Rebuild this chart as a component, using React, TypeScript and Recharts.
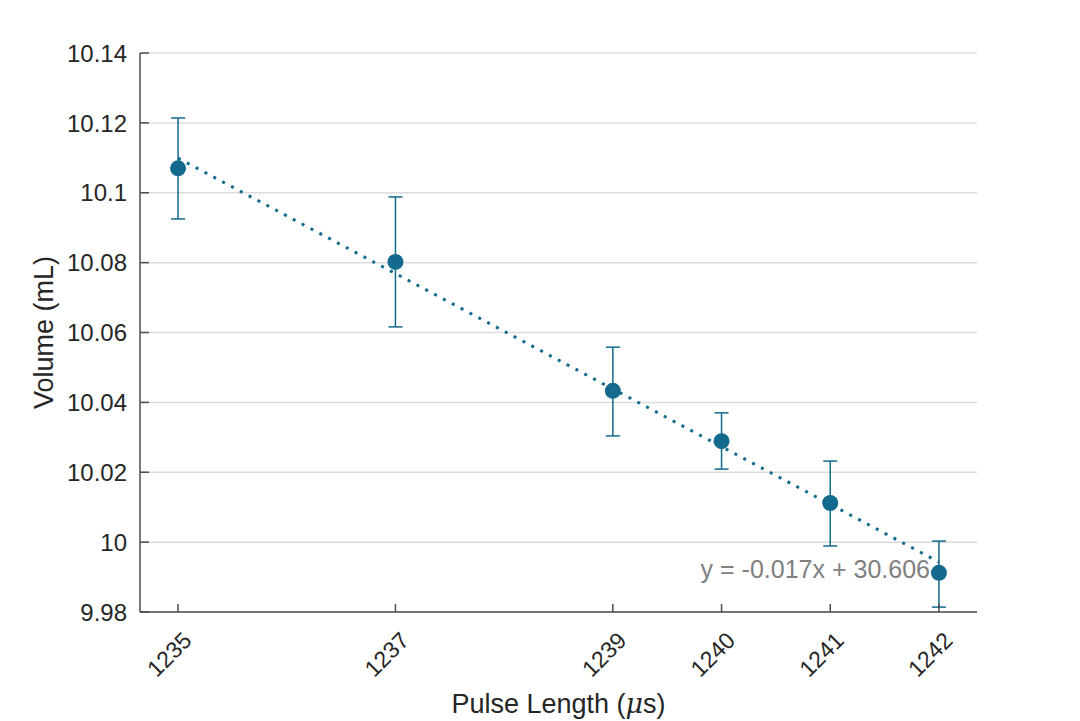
import React from 'react';
import {
  ComposedChart,
  Scatter,
  XAxis,
  YAxis,
  CartesianGrid,
  ErrorBar,
  ReferenceDot,
  Label,
} from 'recharts';

const pulse = [1235, 1237, 1239, 1240, 1241, 1242];
const volume = [10.107, 10.0802, 10.0433, 10.0289, 10.0112, 9.9912];
const errLower = [10.0925, 10.0616, 10.0304, 10.0209, 9.9989, 9.9814];
const errUpper = [10.1214, 10.0988, 10.0558, 10.037, 10.0232, 10.0003];

const trendX = [1235, 1242];
const trendY = [10.1099, 9.9943];

const xTicks = [1235, 1237, 1239, 1240, 1241, 1242];
const yTicks = [9.98, 10, 10.02, 10.04, 10.06, 10.08, 10.1, 10.12, 10.14];
const yTickLabels = ['9.98', '10', '10.02', '10.04', '10.06', '10.08', '10.1', '10.12', '10.14'];

const equation = 'y = -0.017x + 30.606';
const xTitle = 'Pulse Length (';
const yTitle = 'Volume (mL)';

const points = pulse.map((x, i) => ({
  x,
  y: volume[i],
  err: [volume[i] - errLower[i], errUpper[i] - volume[i]],
}));
const trend = trendX.map((x, i) => ({ x, y: trendY[i] }));

const BLUE = '#136a8c';
const FONT = '"Liberation Sans", Arial, Helvetica, sans-serif';
const TEXT = '#262626';
const AXIS = '#4d4d4d';

const XTick = (props: any) => {
  const { x, y, payload } = props;
  return (
    <g transform={`translate(${x + 15},${y + 30})`}>
      <text
        transform="rotate(-45)"
        textAnchor="end"
        x={0}
        y={0}
        fill={TEXT}
        fontSize={23}
        fontFamily={FONT}
      >
        {payload.value}
      </text>
    </g>
  );
};

const YTick = (props: any) => {
  const { x, y, payload } = props;
  const idx = yTicks.findIndex((t) => Math.abs(t - payload.value) < 1e-9);
  return (
    <text
      x={x}
      y={y}
      dy="0.36em"
      textAnchor="end"
      fill={TEXT}
      fontSize={24}
      fontFamily={FONT}
    >
      {idx >= 0 ? yTickLabels[idx] : payload.value}
    </text>
  );
};

const XTitle = (props: any) => {
  const vb = props.viewBox;
  return (
    <text
      x={vb.x + vb.width / 2}
      y={vb.y + 101}
      textAnchor="middle"
      fill={TEXT}
      fontSize={27}
      fontFamily={FONT}
    >
      {xTitle}
      <tspan fontStyle="italic" fontFamily='"DejaVu Serif", serif'>μ</tspan>
      s)
    </text>
  );
};

const YTitle = (props: any) => {
  const vb = props.viewBox;
  const cx = 45;
  const cy = vb.y + vb.height / 2;
  return (
    <text
      x={cx}
      y={cy}
      transform={`rotate(-90, ${cx}, ${cy})`}
      textAnchor="middle"
      fill={TEXT}
      fontSize={27}
      fontFamily={FONT}
    >
      {yTitle}
    </text>
  );
};

const EqLabel = (props: any) => {
  const vb = props.viewBox;
  return (
    <text
      x={vb.x - 9}
      y={vb.y + 16}
      textAnchor="end"
      fill="#808080"
      fontSize={25}
      fontFamily={FONT}
    >
      {equation}
    </text>
  );
};

export default function App() {
  return (
    <div style={{ width: 1072, height: 713 }}>
      <ComposedChart
        width={1072}
        height={713}
        margin={{ top: 45, right: 103, bottom: 0, left: 0 }}
      >
        <CartesianGrid vertical={false} stroke="#dcdcdc" strokeWidth={1.5} />
        <XAxis
          type="number"
          dataKey="x"
          domain={[1234.65, 1242.35]}
          ticks={xTicks}
          allowDataOverflow
          height={109}
          tickSize={-8}
          tickMargin={8}
          stroke={AXIS}
          strokeWidth={1.5}
          tick={<XTick />}
          interval={0}
        >
          <Label content={<XTitle />} />
        </XAxis>
        <YAxis
          type="number"
          dataKey="y"
          domain={[9.98, 10.14]}
          ticks={yTicks}
          allowDataOverflow
          width={132}
          tickSize={-9}
          tickMargin={22}
          stroke={AXIS}
          strokeWidth={1.5}
          tick={<YTick />}
          interval={0}
        >
          <Label content={<YTitle />} />
        </YAxis>
        <Scatter
          data={trend}
          dataKey="y"
          line={{ stroke: BLUE, strokeWidth: 3, strokeDasharray: '3 7' }}
          shape={() => null}
          isAnimationActive={false}
        />
        <Scatter
          data={points}
          dataKey="y"
          fill={BLUE}
          shape={(p: any) => <circle cx={p.cx} cy={p.cy} r={8} fill={BLUE} />}
          isAnimationActive={false}
        >
          <ErrorBar
            dataKey="err"
            direction="y"
            width={7}
            stroke={BLUE}
            strokeWidth={1.5}
            isAnimationActive={false}
          />
        </Scatter>
        <ReferenceDot
          x={trendX[1]}
          y={trendY[1]}
          r={0}
          fill="none"
          stroke="none"
          label={<EqLabel />}
        />
      </ComposedChart>
    </div>
  );
}
